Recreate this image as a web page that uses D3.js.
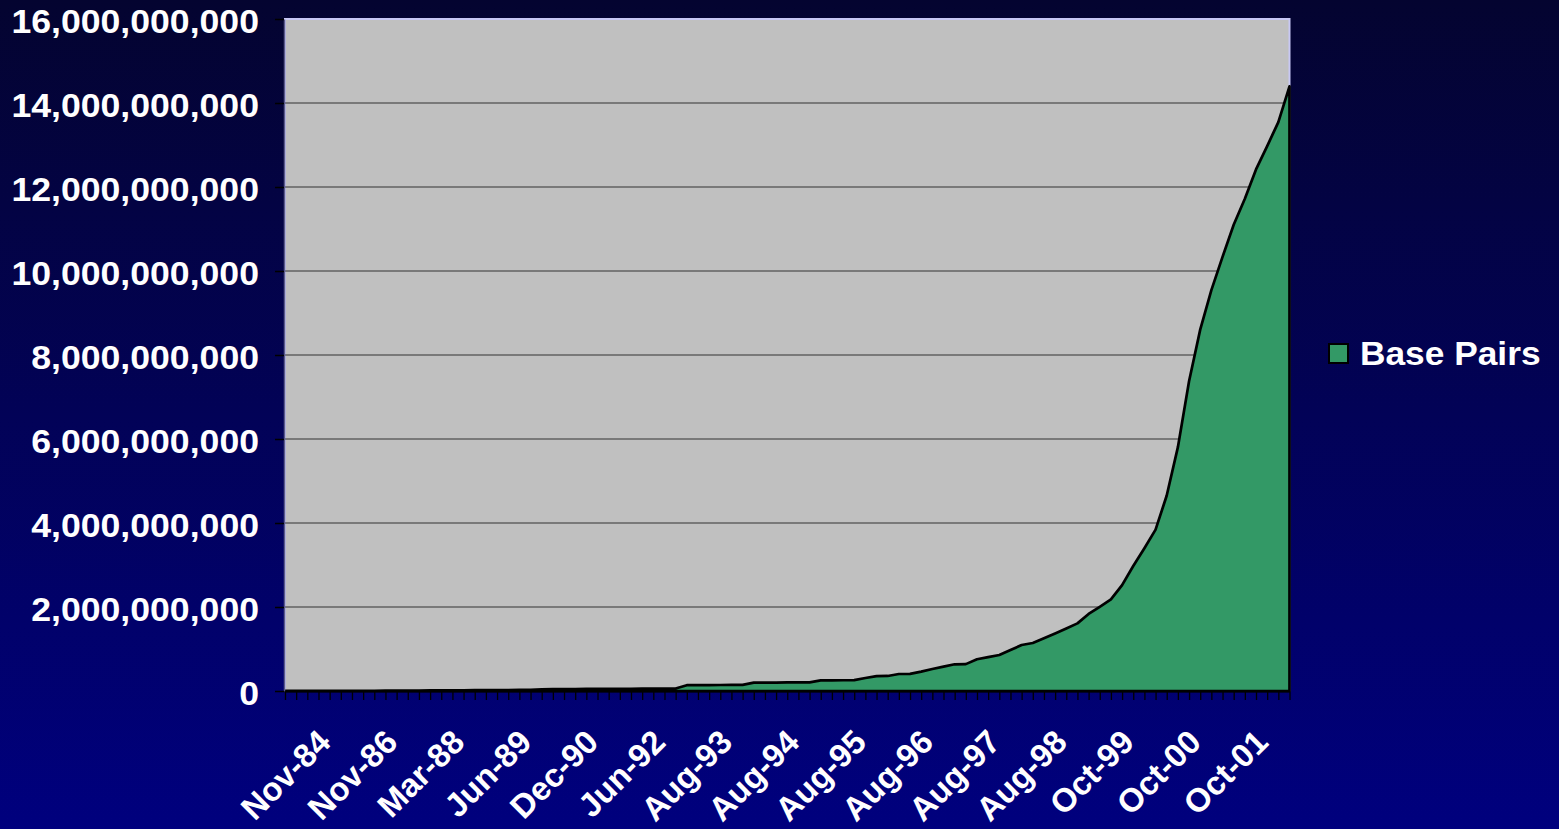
<!DOCTYPE html>
<html>
<head>
<meta charset="utf-8">
<script src="https://cdnjs.cloudflare.com/ajax/libs/d3/7.8.5/d3.min.js"></script>
<style>
  body { margin: 0; background: #000080; }
  svg { display: block; }
  .axis text, .legend text {
    font-family: "Liberation Sans", Arial, sans-serif;
    font-weight: bold;
    font-size: 33px;
    fill: #ffffff;
  }
</style>
</head>
<body>
<div class="chart"></div>
<script>
// GenBank release dates (one per data point)
const categories = [
  "Dec-82", "Aug-83", "Nov-83", "May-84", "Sep-84", "Oct-84", "Nov-84", "Feb-85", "May-85", "Sep-85",
  "Feb-86", "Aug-86", "Nov-86", "Feb-87", "May-87", "Aug-87", "Sep-87", "Dec-87", "Mar-88", "Jun-88",
  "Sep-88", "Nov-88", "Dec-88", "Mar-89", "Jun-89", "Sep-89", "Dec-89", "Mar-90", "Jun-90", "Sep-90",
  "Dec-90", "Mar-91", "Jun-91", "Sep-91", "Dec-91", "Mar-92", "Jun-92", "Sep-92", "Dec-92", "Feb-93",
  "Apr-93", "Jun-93", "Aug-93", "Oct-93", "Dec-93", "Feb-94", "Apr-94", "Jun-94", "Aug-94", "Oct-94",
  "Dec-94", "Feb-95", "Apr-95", "Jun-95", "Aug-95", "Oct-95", "Dec-95", "Feb-96", "Apr-96", "Jun-96",
  "Aug-96", "Oct-96", "Dec-96", "Feb-97", "Apr-97", "Jun-97", "Aug-97", "Oct-97", "Dec-97", "Feb-98",
  "Apr-98", "Jun-98", "Aug-98", "Oct-98", "Dec-98", "Apr-99", "Jun-99", "Aug-99", "Oct-99", "Dec-99",
  "Feb-00", "Apr-00", "Jun-00", "Aug-00", "Oct-00", "Dec-00", "Feb-01", "Apr-01", "Jun-01", "Aug-01",
  "Oct-01"
]

// Base pairs per release
const basePairs = [
  680338, 1476580, 2274029, 3368765, 4002253, 4421545, 4909194, 5204420, 5930427, 7086438,
  8442357, 9615371, 10961380, 13048473, 14855145, 15514776, 16752872, 19156002, 20795418, 21961241,
  23800000, 24690876, 26382491, 40100000, 45200000, 47100000, 48000000, 49200000, 50300000, 51300000,
  52700000, 53900000, 55200000, 56800000, 58400000, 60100000, 138000000, 139500000, 141200000, 142600000,
  144100000, 146000000, 198000000, 199800000, 201500000, 203400000, 205200000, 207000000, 252000000, 254000000,
  256500000, 259000000, 310000000, 356000000, 358000000, 405000000, 408000000, 462000000, 524000000, 580000000,
  636000000, 640000000, 755000000, 808000000, 857000000, 975000000, 1095000000, 1142000000, 1255000000, 1370000000,
  1490000000, 1610000000, 1835000000, 2005000000, 2180000000, 2520000000, 2975762254, 3400237176, 3841163011, 4653932745,
  5805414935, 7376080723, 8604221980, 9545724824, 10335692655, 11101066288, 11720120326, 12418544023, 12973707065, 13543364296,
  14396883064
]

// Labels that are shown under the axis
const tickLabels = ["Nov-84", "Nov-86", "Mar-88", "Jun-89", "Dec-90", "Jun-92", "Aug-93", "Aug-94",
  "Aug-95", "Aug-96", "Aug-97", "Aug-98", "Oct-99", "Oct-00", "Oct-01"]

const yTicks = [0, 2e9, 4e9, 6e9, 8e9, 10e9, 12e9, 14e9, 16e9]

const seriesName = "Base Pairs"

const W = 1559, H = 829
const plot = {left: 285, right: 1289.5, top: 19, bottom: 691}

const svg = d3.select(".chart").append("svg")
    .attr("width", W)
    .attr("height", H)

// background gradient, dark at top to navy at bottom
const grad = svg.append("defs").append("linearGradient")
    .attr("id", "bg")
    .attr("x1", 0).attr("y1", 0).attr("x2", 0).attr("y2", 1)
grad.append("stop").attr("offset", "0%").attr("stop-color", "#040430")
grad.append("stop").attr("offset", "100%").attr("stop-color", "#00007e")

svg.append("rect")
    .attr("width", W)
    .attr("height", H)
    .attr("fill", "url(#bg)")

const x = d3.scalePoint()
    .domain(categories)
    .range([plot.left, plot.right])

const y = d3.scaleLinear()
    .domain([0, 16e9])
    .range([plot.bottom, plot.top])

// plot area
svg.append("rect")
    .attr("x", plot.left)
    .attr("y", plot.top)
    .attr("width", plot.right - plot.left)
    .attr("height", plot.bottom - plot.top)
    .attr("fill", "#c0c0c0")
    .attr("stroke", "#c8c8f4")
    .attr("stroke-width", 2)

// gridlines
svg.append("g")
    .selectAll("line")
    .data(yTicks.filter(d => d > 0 && d < 16e9))
    .enter().append("line")
        .attr("x1", plot.left)
        .attr("x2", plot.right)
        .attr("y1", d => y(d))
        .attr("y2", d => y(d))
        .attr("stroke", "#333")
        .attr("stroke-width", 1)

// the area itself
const area = d3.area()
    .x((d, i) => x(categories[i]))
    .y0(y(0))
    .y1(d => y(d))

svg.append("path")
    .datum(basePairs)
    .attr("d", area)
    .attr("fill", "#339966")
    .attr("stroke", "#000")
    .attr("stroke-width", 2.7)
    .attr("stroke-linejoin", "round")

// y axis
const yAxis = d3.axisLeft(y)
    .tickValues(yTicks)
    .tickSize(9)
    .tickSizeOuter(0)
    .tickFormat(d3.format(","))

svg.append("g")
    .attr("class", "axis y")
    .attr("transform", "translate(" + (plot.left - 1) + ",0)")
    .call(yAxis)
    .call(g => g.select(".domain").attr("stroke", "#5a5a88").attr("stroke-width", 1.5))
    .call(g => g.selectAll(".tick line").attr("stroke", "#000").attr("stroke-width", 1.5))
    .call(g => g.selectAll(".tick text")
        .attr("x", 0)
        .attr("dy", null)
        .attr("text-anchor", "end")
        // GDI-rendered text in the original is a little wider
        .attr("transform", "translate(-25,13) scale(1.08,1)"))

// x axis, a tick for every release
const xAxis = d3.axisBottom(x)
    .tickValues(categories)
    .tickSize(9)
    .tickSizeOuter(0)
    .tickFormat(d => tickLabels.includes(d) ? d : "")

svg.append("g")
    .attr("class", "axis x")
    .attr("transform", "translate(0," + plot.bottom + ")")
    .call(xAxis)
    .call(g => g.select(".domain").attr("stroke", "#000").attr("stroke-width", 2))
    .call(g => g.selectAll(".tick line").attr("stroke", "#000").attr("stroke-width", 1.3))
    .call(g => g.selectAll(".tick text")
        .attr("x", -20)
        .attr("y", 53)
        .attr("dy", null)
        .attr("text-anchor", "end")
        .attr("transform", "rotate(-45,-20,53)"))

svg.selectAll(".axis").attr("font-family", null).attr("font-size", null)

// legend
const legend = svg.append("g")
    .attr("class", "legend")
    .attr("transform", "translate(1329,344)")

legend.append("rect")
    .attr("width", 19)
    .attr("height", 19)
    .attr("fill", "#339966")
    .attr("stroke", "#000")
    .attr("stroke-width", 2)

legend.append("text")
    .attr("transform", "translate(31,20.5) scale(1.07,1)")
    .text(seriesName)
</script>
</body>
</html>
